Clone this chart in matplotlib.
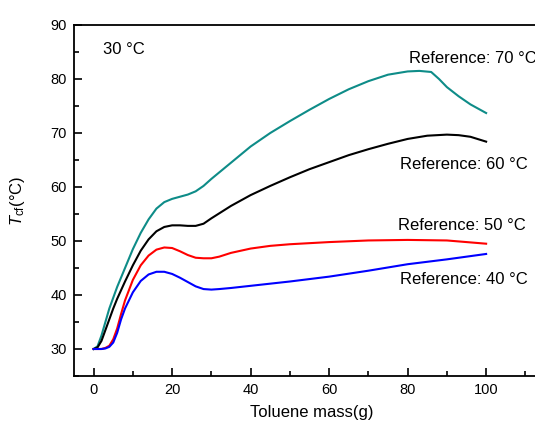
import matplotlib
matplotlib.use("Agg")
import matplotlib.pyplot as plt
from matplotlib.ticker import MultipleLocator

plt.rcParams['font.family'] = ['Liberation Sans', 'DejaVu Sans']
plt.rcParams['mathtext.fontset'] = 'custom'
plt.rcParams['mathtext.rm'] = 'Liberation Sans'
plt.rcParams['mathtext.it'] = 'Liberation Sans:italic'

# ---- data ----
x_70 = [0, 1, 2, 3, 4, 5, 6, 8, 10, 12, 14, 16, 18, 20, 22, 24, 26, 28, 30, 35, 40, 45, 50, 55, 60, 65, 70, 75, 80, 83, 86, 88, 90, 93, 96, 100]
y_70 = [30, 30.5, 32.5, 35, 37.5, 39.5, 41.5, 45, 48.5, 51.5, 54, 56, 57.2, 57.8, 58.2, 58.6, 59.2, 60.2, 61.5, 64.5, 67.5, 70, 72.2, 74.3, 76.3, 78.1, 79.6, 80.8, 81.4, 81.5, 81.3, 80, 78.5, 76.8, 75.3, 73.7]

x_60 = [0, 1, 2, 3, 4, 5, 6, 8, 10, 12, 14, 16, 18, 20, 22, 24, 26, 28, 30, 35, 40, 45, 50, 55, 60, 65, 70, 75, 80, 85, 90, 93, 96, 100]
y_60 = [30, 30.3, 31.5, 33.5, 35.5, 37.5, 39.3, 42.5, 45.5, 48.2, 50.3, 51.8, 52.6, 52.9, 52.9, 52.8, 52.8, 53.2, 54.2, 56.5, 58.5, 60.2, 61.8, 63.3, 64.6, 65.9, 67.0, 68.0, 68.9, 69.5, 69.7, 69.6, 69.3, 68.4]

x_50 = [0, 1, 2, 3, 4, 5, 6, 7, 8, 10, 12, 14, 16, 18, 20, 22, 24, 26, 28, 30, 32, 35, 40, 45, 50, 60, 70, 80, 90, 100]
y_50 = [30, 30, 30, 30.2, 30.6, 31.8, 33.8, 36.5, 39, 42.8, 45.5, 47.3, 48.4, 48.8, 48.7, 48.1, 47.4, 46.9, 46.8, 46.8, 47.1, 47.8, 48.6, 49.1, 49.4, 49.8, 50.1, 50.2, 50.1, 49.5]

x_40 = [0, 1, 2, 3, 4, 5, 6, 7, 8, 10, 12, 14, 16, 18, 20, 22, 24, 26, 28, 30, 32, 35, 40, 45, 50, 60, 70, 80, 90, 100]
y_40 = [30, 30, 30, 30.1, 30.4, 31.2, 33, 35.5, 37.5, 40.5, 42.6, 43.8, 44.3, 44.3, 43.9, 43.2, 42.4, 41.6, 41.1, 41, 41.1, 41.3, 41.7, 42.1, 42.5, 43.4, 44.5, 45.7, 46.6, 47.6]

labels = ["Reference: 70 °C", "Reference: 60 °C", "Reference: 50 °C", "Reference: 40 °C"]

fig = plt.figure(figsize=(5.35, 4.21), dpi=100)
ax = fig.add_axes([74/535, 45/421, 471/535, 351/421])

ax.plot(x_70, y_70, color='#0e8c88', lw=1.5)
ax.plot(x_60, y_60, color='black', lw=1.5)
ax.plot(x_50, y_50, color='#ff0000', lw=1.5)
ax.plot(x_40, y_40, color='#0000ff', lw=1.5)

ax.set_xlim(-5, 115)
ax.set_ylim(25, 90)
ax.xaxis.set_major_locator(MultipleLocator(20))
ax.xaxis.set_minor_locator(MultipleLocator(10))
ax.yaxis.set_major_locator(MultipleLocator(10))
ax.yaxis.set_minor_locator(MultipleLocator(5))
ax.tick_params(which='both', direction='in', top=False, right=False, labelsize=10.5, width=1.2, pad=5)
ax.tick_params(which='major', length=6)
ax.tick_params(which='minor', length=3.5)
for s in ax.spines.values():
    s.set_linewidth(1.3)

ax.set_xlabel('Toluene mass(g)', fontsize=12)
ax.set_ylabel(r'$\mathit{T}_{\rm cf}$(°C)', fontsize=12)
ax.xaxis.set_label_coords(0.505, -0.082)
ax.yaxis.set_label_coords(-0.1, 0.5)

ax.text(2.3, 85.5, '30 °C', fontsize=12, va='center', ha='left')
ax.text(80.4, 83.8, labels[0], fontsize=12, va='center', ha='left', clip_on=False)
ax.text(78.1, 64.2, labels[1], fontsize=12, va='center', ha='left')
ax.text(77.6, 52.9, labels[2], fontsize=12, va='center', ha='left')
ax.text(78.1, 42.9, labels[3], fontsize=12, va='center', ha='left')

fig.savefig('out.png', dpi=100)
